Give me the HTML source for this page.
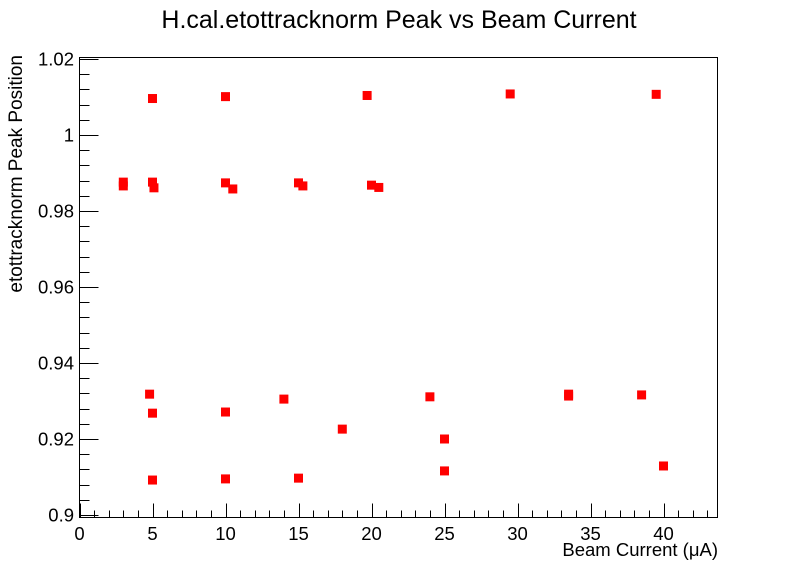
<!DOCTYPE html>
<html><head><meta charset="utf-8"><style>
html,body{margin:0;background:#fff;overflow:hidden;width:798px;height:576px}
svg{display:block;font-family:"Liberation Sans",sans-serif}
</style></head><body>
<svg id="c" width="798" height="576">
<rect width="798" height="576" fill="#fff"/>
<text x="399" y="28" font-size="25" text-anchor="middle">H.cal.etottracknorm Peak vs Beam Current</text>
<rect x="79.5" y="57.5" width="638" height="460" fill="none" stroke="#000"/>
<g id="ax"></g><g id="pts"></g>
<text x="718" y="556" font-size="18.5" text-anchor="end">Beam Current (μA)</text>
<text transform="translate(22,55) rotate(-90)" x="0" y="0" font-size="19" text-anchor="end">etottracknorm Peak Position</text>
</svg>
<script>
const xs=[5,10,19.7,29.5,39.5, 3,3,5,5.1,10,10.5,15,15.3,20,20.5, 4.8,5,10,14,18,24,25,25,33.5,33.5,38.5,40,5,10,15];
const ys=[1.0096,1.0101,1.0104,1.0108,1.0107, 0.9876,0.9866,0.9876,0.9861,0.9874,0.9858,0.9874,0.9866,0.9868,0.9862, 0.9318,0.9268,0.9271,0.9305,0.9226,0.9311,0.92,0.9116,0.9318,0.9313,0.9316,0.9129,0.9092,0.9095,0.9097];
const xTicks=[0,5,10,15,20,25,30,35,40];
const yTicks=[0.9,0.92,0.94,0.96,0.98,1,1.02];
const yLabels=["0.9","0.92","0.94","0.96","0.98","1","1.02"];
const X=v=>79.5+v*14.6, Y=v=>515-(v-0.9)*3800;
const NS="http://www.w3.org/2000/svg";
const ax=document.getElementById('ax'),pts=document.getElementById('pts');
function ln(x1,y1,x2,y2){const l=document.createElementNS(NS,'line');l.setAttribute('x1',x1);l.setAttribute('y1',y1);l.setAttribute('x2',x2);l.setAttribute('y2',y2);l.setAttribute('stroke','#000');


ax.appendChild(l);}
function tx(x,y,s,anc,name){const t=document.createElementNS(NS,'text');t.setAttribute('x',x);t.setAttribute('y',y);t.setAttribute('font-size','18.5');t.setAttribute('text-anchor',anc);t.textContent=s;


ax.appendChild(t);}
for(let v=0;v<=43;v++){const x=Math.round(X(v))+0.5;ln(x,517.5,x,v%5==0?503.5:510.5);}
xTicks.forEach(v=>tx(X(v),540,String(v),'middle','x-tick-label'));
for(let i=0;i<=30;i++){const v=0.9+i*0.004;if(Y(v)<57)break;const y=Math.round(Y(v))+0.5;ln(79.5,y,i%5==0?98.5:89.5,y);}
yTicks.forEach((v,i)=>tx(74,Y(v)+6.5,yLabels[i],'end','y-tick-label'));
xs.forEach((v,i)=>{const r=document.createElementNS(NS,'rect');r.setAttribute('x',X(v)-4.5);r.setAttribute('y',Y(ys[i])-4.5);r.setAttribute('width',9);r.setAttribute('height',9);r.setAttribute('fill','#f00');


pts.appendChild(r);});
</script>
</body></html>
